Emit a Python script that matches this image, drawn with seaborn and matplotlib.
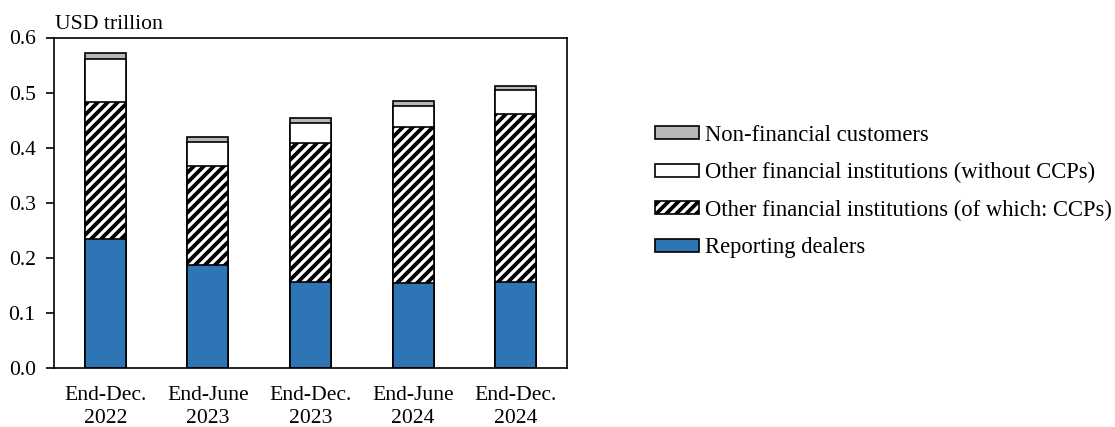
import matplotlib
matplotlib.use("Agg")
import matplotlib.pyplot as plt
import numpy as np
import pandas as pd
import seaborn as sns

# Outstanding positions by counterparty, USD trillion
periods = ["End-Dec.\n2022", "End-June\n2023", "End-Dec.\n2023", "End-June\n2024", "End-Dec.\n2024"]
reporting_dealers = [0.234, 0.187, 0.156, 0.155, 0.157]
ofi_ccps = [0.248, 0.180, 0.253, 0.283, 0.304]
ofi_without_ccps = [0.079, 0.043, 0.036, 0.037, 0.043]
non_financial = [0.010, 0.010, 0.009, 0.009, 0.008]

series_labels = [
    "Non-financial customers",
    "Other financial institutions (without CCPs)",
    "Other financial institutions (of which: CCPs)",
    "Reporting dealers",
]
y_ticks = [0.0, 0.1, 0.2, 0.3, 0.4, 0.5, 0.6]

sns.set_theme(style="white")
plt.rcParams["font.family"] = ["Liberation Serif", "DejaVu Serif"]
plt.rcParams["text.color"] = "black"
plt.rcParams["xtick.color"] = "black"
plt.rcParams["ytick.color"] = "black"
plt.rcParams["hatch.linewidth"] = 2.3
plt.rcParams["hatch.color"] = "black"

DPI = 120
fig = plt.figure(figsize=(1115 / DPI, 427 / DPI), dpi=DPI)
ax = fig.add_axes([54 / 1115, 1 - 368 / 427, (567 - 54) / 1115, (368 - 37.5) / 427])

# Stack bottom-up, then draw the cumulative heights from tallest to shortest
stack = np.cumsum(
    np.array([reporting_dealers, ofi_ccps, ofi_without_ccps, non_financial]), axis=0
)
layers = [
    (stack[3], "#B7B7B7", None),
    (stack[2], "white", None),
    (stack[1], "white", "////"),
    (stack[0], "#2E75B6", None),
]
df = pd.DataFrame({"period": periods})
for heights, color, hatch in layers:
    df["value"] = heights
    sns.barplot(
        data=df, x="period", y="value", ax=ax, color=color, saturation=1,
        width=0.4, edgecolor="black", linewidth=1.0, hatch=hatch,
        errorbar=None,
    )

FS = 13
ax.set_xlim(-0.5, len(periods) - 0.5)
ax.set_ylim(0, 0.6)
ax.set_yticks(y_ticks)
ax.set_yticklabels([f"{v:.1f}" for v in y_ticks], fontsize=FS)
ax.set_xticks(np.arange(-0.5, len(periods), 1.0))
ax.set_xticklabels([])
ax.set_xticks(np.arange(len(periods)), minor=True)
ax.set_xticklabels(periods, minor=True, fontsize=FS, linespacing=1.25)
ax.tick_params(axis="x", which="major", direction="out", length=5, width=1, color="black")
ax.tick_params(axis="x", which="minor", length=0, pad=11)
ax.tick_params(axis="y", direction="out", length=5, width=1, color="black", pad=6, left=True)
ax.set_xlabel("")
ax.set_ylabel("")
for sp in ax.spines.values():
    sp.set_color("black")
    sp.set_linewidth(1.0)

ax.text(0.002, 1.01, "USD trillion", transform=ax.transAxes, fontsize=FS,
        ha="left", va="bottom")

handles = [c.patches[0] for c in ax.containers]
fig.legend(
    handles, series_labels, loc="center left",
    bbox_to_anchor=(655 / 1115, 1 - 191.5 / 427), frameon=False,
    fontsize=13.6, handlelength=1.95, handleheight=0.5, handletextpad=0.25,
    labelspacing=0.72, borderpad=0, borderaxespad=0,
)

fig.savefig("out.png", dpi=DPI, facecolor="white")
